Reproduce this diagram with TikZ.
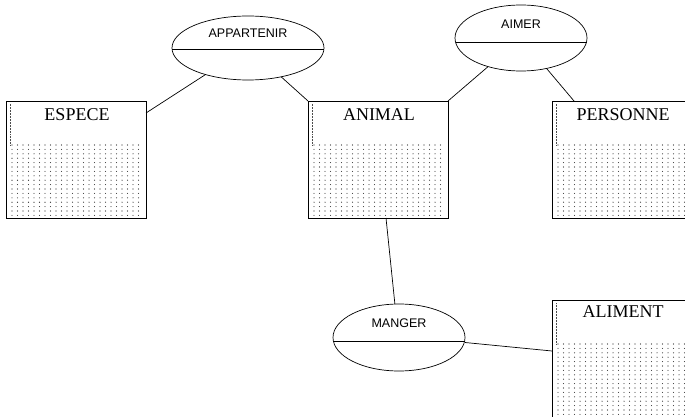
\documentclass[tikz,border=0pt]{standalone}
\usepackage{fontspec}
\setmainfont{Liberation Serif}
\setsansfont{Liberation Sans}
\usetikzlibrary{shapes.geometric}
\tikzset{
  ent/.style={draw, rectangle, minimum width=140pt, minimum height=117pt, inner sep=0pt, outer sep=0pt, line width=0.7pt},
  rel/.style={draw, ellipse, inner sep=0pt, outer sep=0pt, line width=0.7pt},
  ttl/.style={font=\fontsize{18}{18}\selectfont\rmfamily, inner sep=0pt},
  rlbl/.style={font=\sffamily\fontsize{12.5}{12.5}\selectfont, inner sep=0pt},
  link/.style={line width=0.7pt},
  sep/.style={line width=0.8pt},
  dotc/.style={fill=black!85},
  edgedots/.style={densely dotted, line width=0.5pt, black!70}
}
\newcommand\dotsin[2]{% left, top of box
  \foreach \i in {0,...,23}{\foreach \j in {0,...,16}{
    \fill[dotc] (#1+6+\i*5.5, #2+44+\j*4.4) circle (0.55pt);}}
  \draw[edgedots] (#1+4,#2+3) -- (#1+4,#2+44);
}
\begin{document}
\begin{tikzpicture}[x=1pt,y=-1pt]
\useasboundingbox (0,0) rectangle (685,417);
\clip (0,0) rectangle (685,417);
\fill[white] (0,0) rectangle (685,417);
% dotted fills
\dotsin{6}{101}
\dotsin{308}{101}
\dotsin{552}{101}
\dotsin{552}{300}
% entities
\node[ent] (espece) at (76,159.5) {};
\node[ent] (animal) at (378,159.5) {};
\node[ent] (personne) at (622,159.5) {};
\node[ent] (aliment) at (622,358.5) {};
\node[ttl] at (77,115) {ESPECE};
\node[ttl] at (379,115) {ANIMAL};
\node[ttl] at (623,115) {PERSONNE};
\node[ttl] at (623,312) {ALIMENT};
% relations
\node[rel, minimum width=152pt, minimum height=64pt] (app) at (248,48) {};
\node[rel, minimum width=132pt, minimum height=66pt] (aimer) at (521,38) {};
\node[rel, minimum width=132pt, minimum height=67pt] (manger) at (399,337.5) {};
\draw[sep] ([shift={(-76,1)}]app.center) -- ([shift={(76,1)}]app.center);
\draw[sep] ([shift={(-65.5,4)}]aimer.center) -- ([shift={(65.5,4)}]aimer.center);
\draw[sep] ([shift={(-65.6,3.5)}]manger.center) -- ([shift={(65.6,3.5)}]manger.center);
\node[rlbl] at (248,33) {APPARTENIR};
\node[rlbl] at (521,24) {AIMER};
\node[rlbl] at (399,323) {MANGER};
% links
\draw[link] ([yshift=-12pt]espece.north east) -- (app.-148);
\draw[link] (app.-41) -- (animal.north west);
\draw[link] (aimer.-139.5) -- (animal.north east);
\draw[link] (aimer.-50) -- ([xshift=22pt]personne.north west);
\draw[link] ([xshift=8pt]animal.south) -- (manger.97);
\draw[link] ([shift={(0,5)}]manger.east) -- ([yshift=-51pt]aliment.north west);
\end{tikzpicture}
\end{document}
